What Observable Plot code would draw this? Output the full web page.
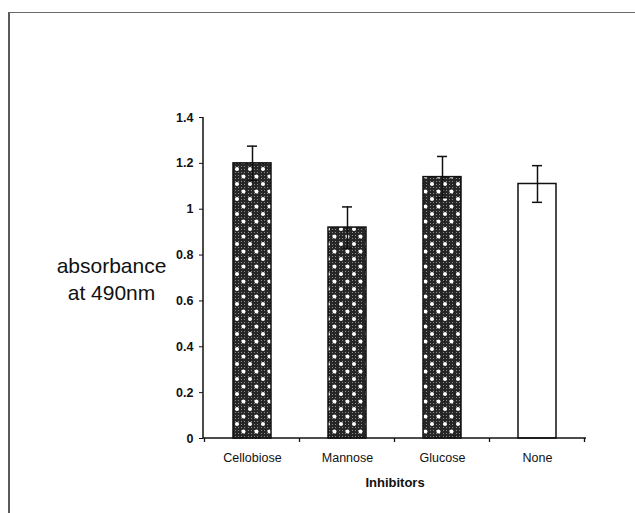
<!DOCTYPE html>
<html>
<head>
<meta charset="utf-8">
<script src="https://cdn.jsdelivr.net/npm/d3@7"></script>
<script src="https://cdn.jsdelivr.net/npm/@observablehq/plot@0.6"></script>
<style>
  html, body { margin: 0; padding: 0; background: #fff; }
  body { width: 635px; height: 513px; overflow: hidden; position: relative; }
  #sheet { position: absolute; left: 8px; top: 12px; width: 700px; height: 600px;
           border-left: 2px solid #5a5a5a; border-top: 1.5px solid #6a6a6a; pointer-events: none; }
  #chart { position: absolute; left: 0; top: 0; }
</style>
</head>
<body>
<div id="chart"></div>
<div id="sheet"></div>
<script>
// Absorbance at 490 nm by inhibitor (mean ± error)
const inhibitors = ["Cellobiose", "Mannose", "Glucose", "None"];
const absorbance = [1.20, 0.92, 1.14, 1.11];
const errors = [0.075, 0.09, 0.09, 0.08];

const yTicks = [0, 0.2, 0.4, 0.6, 0.8, 1, 1.2, 1.4];
const yTickLabels = ["0", "0.2", "0.4", "0.6", "0.8", "1", "1.2", "1.4"];

const data = inhibitors.map((inhibitor, i) => ({
  inhibitor,
  mean: absorbance[i],
  err: errors[i]
}));

const font = "'Liberation Sans', Arial, Helvetica, sans-serif";

// Axis lines plus the category-boundary ticks along the baseline
function axisFrame(index, scales, values, dims) {
  const x = scales.x, y = scales.y;
  const step = x.step(), bw = x.bandwidth();
  const left = dims.marginLeft, right = dims.width - dims.marginRight;
  const y0 = y(0), yTop = y(yTicks[yTicks.length - 1]);
  const g = d3.create("svg:g").attr("stroke", "#111").attr("fill", "none");
  g.append("line").attr("x1", left).attr("x2", left).attr("y1", yTop).attr("y2", y0).attr("stroke-width", 1.5);
  g.append("line").attr("x1", left).attr("x2", right).attr("y1", y0).attr("y2", y0).attr("stroke-width", 1.5);
  const edges = inhibitors.map(c => x(c) + bw / 2 - step / 2);
  edges.push(x(inhibitors[inhibitors.length - 1]) + bw / 2 + step / 2);
  for (const e of edges) {
    g.append("line").attr("x1", e).attr("x2", e).attr("y1", y0).attr("y2", y0 + 4).attr("stroke-width", 1.3);
  }
  return g.node();
}

const chart = Plot.plot({
  width: 635,
  height: 513,
  marginLeft: 203,
  marginRight: 49,
  marginTop: 117,
  marginBottom: 75,
  style: { fontFamily: font, fontSize: "12px", color: "#111", background: "transparent" },
  x: { domain: inhibitors, paddingInner: 0.6, paddingOuter: 0.3, label: null },
  y: { domain: [0, 1.4], label: null },
  color: { type: "identity" },
  marks: [
    Plot.barY(data, {
      x: "inhibitor",
      y: "mean",
      fill: d => d.inhibitor === "None" ? "white" : "url(#dots)",
      stroke: "#111",
      strokeWidth: 1.5
    }),
    Plot.ruleX(data, {
      x: "inhibitor",
      y1: d => d.mean - d.err,
      y2: d => d.mean + d.err,
      stroke: "#111",
      strokeWidth: 1.5
    }),
    Plot.tickY(data, { x: "inhibitor", y: d => d.mean + d.err, stroke: "#111", strokeWidth: 1.5, insetLeft: 14, insetRight: 14 }),
    Plot.tickY(data, { x: "inhibitor", y: d => d.mean - d.err, stroke: "#111", strokeWidth: 1.5, insetLeft: 14, insetRight: 14 }),
    axisFrame,
    Plot.axisY({
      ticks: yTicks,
      tickSize: 4,
      tickPadding: 6,
      tickFormat: d => yTickLabels[yTicks.findIndex(t => Math.abs(t - d) < 1e-9)],
      fontSize: 12.5,
      fontWeight: "bold",
      label: null
    }),
    Plot.axisX({
      tickSize: 0,
      tickPadding: 15,
      fontSize: 12.5,
      label: null
    }),
    Plot.text(["absorbance\nat 490nm"], {
      text: d => d,
      frameAnchor: "left",
      dx: -92,
      textAnchor: "middle",
      lineAnchor: "middle",
      lineHeight: 1.3,
      fontSize: 21,
      fill: "#111"
    }),
    Plot.text(["Inhibitors"], {
      text: d => d,
      frameAnchor: "bottom",
      dy: 44,
      textAnchor: "middle",
      lineAnchor: "middle",
      fontSize: 13,
      fontWeight: "bold",
      fill: "#111"
    })
  ]
});

// Dotted cross-hatch fill for the inhibitor bars
const defs = d3.select(chart).insert("defs", ":first-child");
const hatch = defs.append("pattern")
  .attr("id", "hatch").attr("patternUnits", "userSpaceOnUse")
  .attr("width", 3).attr("height", 3);
hatch.append("rect").attr("width", 3).attr("height", 3).attr("fill", "#262626");
hatch.append("rect").attr("x", 1).attr("y", 1).attr("width", 1).attr("height", 1).attr("fill", "#8a8a8a");
const dots = defs.append("pattern")
  .attr("id", "dots").attr("patternUnits", "userSpaceOnUse")
  .attr("width", 13).attr("height", 15);
dots.append("rect").attr("width", 13).attr("height", 15).attr("fill", "url(#hatch)");
dots.append("circle").attr("cx", 3).attr("cy", 4).attr("r", 2).attr("fill", "white");
dots.append("circle").attr("cx", 9.5).attr("cy", 11.5).attr("r", 2).attr("fill", "white");

document.getElementById("chart").appendChild(chart);
</script>
</body>
</html>
